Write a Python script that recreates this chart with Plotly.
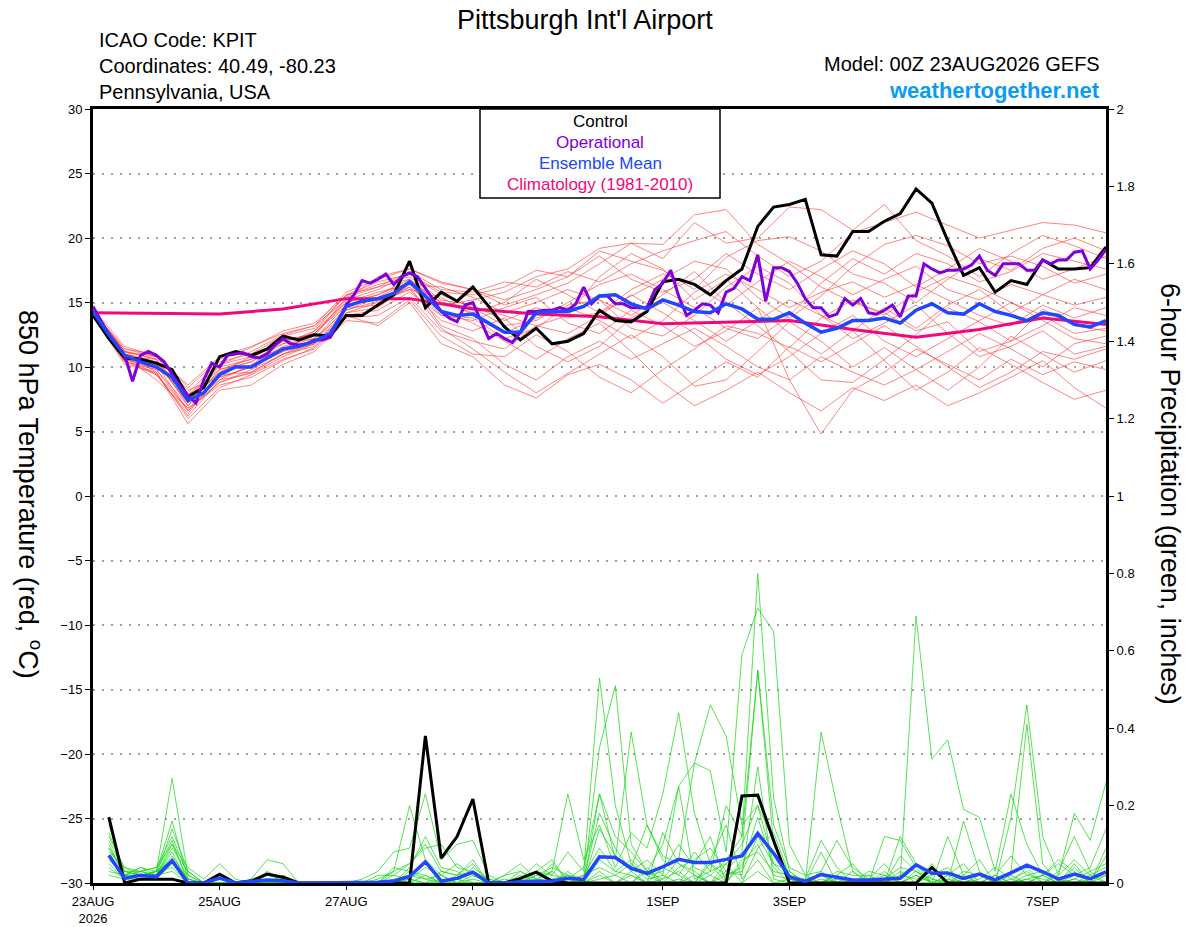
import plotly.graph_objects as go

# forecast hours from 00Z 23AUG2026
hours_3h = list(range(0, 385, 3))
hours_6h = list(range(0, 385, 6))
hours_12h = list(range(0, 385, 12))
hours_24h = list(range(0, 385, 24))
precip_hours = list(range(6, 385, 6))

tick_hours = [0, 48, 96, 144, 216, 264, 312, 360]
tick_labels = ["23AUG<br>2026", "25AUG", "27AUG", "29AUG", "1SEP", "3SEP", "5SEP", "7SEP"]

# 850 hPa temperature (C)
control_temp = [14.0, 12.2, 10.7, 10.6, 10.3, 9.8, 7.7, 8.4,
                10.8, 11.2, 10.9, 11.4, 12.4, 12.1, 12.5, 12.4,
                14.0, 14.0, 14.8, 15.6, 18.2, 14.6, 15.8, 15.1,
                16.2, 14.7, 13.1, 12.1, 13.0, 11.8, 12.0, 12.6,
                14.4, 13.6, 13.5, 14.3, 16.6, 16.8, 16.4, 15.6,
                16.7, 17.6, 20.9, 22.4, 22.6, 23.0, 18.7, 18.6,
                20.5, 20.5, 21.3, 21.9, 23.8, 22.7, 19.8, 17.1,
                17.7, 15.8, 16.7, 16.4, 18.3, 17.6, 17.6, 17.7,
                19.3]
mean_temp = [14.3, 12.5, 10.9, 10.4, 10.0, 9.2, 7.4, 8.0,
             9.4, 10.0, 10.0, 10.7, 11.4, 11.6, 12.0, 12.6,
             14.7, 15.1, 15.3, 15.7, 16.6, 15.5, 14.3, 14.0,
             14.1, 13.4, 12.7, 12.7, 14.2, 14.3, 14.3, 14.7,
             15.5, 15.6, 14.9, 14.5, 15.2, 14.8, 14.3, 14.2,
             14.9, 14.5, 13.7, 13.7, 14.2, 13.4, 12.7, 13.0,
             13.6, 13.6, 13.8, 13.4, 14.4, 14.9, 14.2, 14.1,
             14.9, 14.3, 14.0, 13.6, 14.2, 14.0, 13.3, 13.1,
             13.6]
oper_temp = [14.7, 13.6, 12.5, 11.7, 10.9, 8.9, 10.9, 11.2,
             10.9, 10.4, 9.5, 8.5, 7.8, 7.2, 9.0, 10.3,
             10.0, 10.9, 11.0, 11.1, 10.8, 10.7, 11.0, 11.7,
             12.2, 11.8, 11.7, 11.8, 12.1, 12.1, 12.3, 13.6,
             14.8, 15.6, 16.7, 16.5, 16.8, 17.2, 16.4, 17.0,
             17.3, 17.0, 16.1, 15.3, 14.3, 13.8, 13.5, 14.8,
             15.0, 13.6, 12.2, 12.6, 12.2, 11.9, 12.7, 14.3,
             14.3, 14.4, 14.4, 14.6, 14.4, 14.9, 16.2, 14.9,
             15.5, 15.5, 14.9, 14.9, 14.6, 14.6, 14.6, 16.0,
             16.5, 17.5, 15.5, 14.0, 14.4, 14.9, 14.8, 14.2,
             15.8, 16.1, 17.0, 16.7, 18.7, 15.1, 17.7, 17.7,
             17.4, 16.5, 15.3, 14.6, 14.6, 13.9, 14.1, 15.3,
             14.8, 15.3, 14.2, 14.1, 14.4, 14.8, 13.9, 15.5,
             15.5, 18.0, 17.6, 17.3, 17.5, 17.5, 17.6, 17.9,
             18.6, 17.5, 17.1, 18.0, 18.0, 18.0, 17.5, 17.5,
             18.3, 18.0, 18.3, 18.3, 18.9, 19.0, 17.6, 18.3,
             19.1]
clim_temp = [14.2, 14.15, 14.1, 14.5, 15.3, 15.3, 14.5, 14.1, 13.9,
             13.35, 13.5, 13.6, 12.9, 12.3, 12.9, 13.8, 13.3]

member_temp = [
    [14.2, 11.2, 10.6, 7.0, 9.8, 10.4, 12.0, 12.6, 15.2, 16.0, 17.2, 15.8, 15.6, 16.2, 17.5, 17.0, 19.0,
     18.2, 17.5, 16.0, 18.5, 19.8, 20.1, 19.0, 17.2, 16.5, 15.0, 16.8, 18.4, 17.5, 19.2, 20.0, 19.0],
    [14.0, 10.5, 9.5, 6.2, 9.0, 9.5, 10.8, 11.8, 14.4, 15.1, 16.2, 13.0, 11.4, 9.6, 8.0, 9.5, 11.0,
     12.5, 10.8, 8.5, 9.0, 11.2, 13.5, 12.0, 10.0, 11.5, 9.8, 8.2, 10.0, 12.4, 11.0, 9.6, 10.5],
    [14.4, 11.0, 10.2, 7.8, 10.2, 11.2, 12.5, 13.2, 15.8, 16.8, 17.6, 16.5, 16.0, 14.8, 15.6, 16.5, 18.0,
     19.6, 19.5, 21.8, 22.2, 19.5, 18.0, 16.2, 15.0, 14.2, 12.8, 13.5, 11.2, 12.0, 14.5, 13.2, 12.8],
    [14.1, 10.8, 9.0, 6.8, 8.6, 9.2, 10.5, 11.5, 14.0, 14.4, 15.8, 14.0, 13.8, 12.2, 13.0, 14.8, 15.2,
     13.0, 12.4, 14.0, 16.2, 17.8, 16.5, 14.0, 12.8, 10.5, 8.2, 9.6, 11.5, 10.2, 8.8, 7.5, 8.2],
    [14.3, 11.4, 11.0, 8.4, 10.6, 11.5, 12.8, 13.4, 15.5, 16.4, 17.0, 15.2, 14.8, 13.6, 14.6, 13.8, 14.2,
     15.5, 16.8, 18.2, 17.6, 15.4, 13.8, 15.5, 17.8, 19.5, 20.2, 19.4, 18.0, 18.6, 17.8, 16.5, 17.2],
    [14.0, 10.2, 9.6, 5.6, 8.2, 8.6, 10.2, 11.2, 13.6, 13.4, 15.2, 12.4, 11.0, 10.8, 12.5, 11.2, 9.2,
     8.0, 9.8, 11.4, 13.2, 12.6, 11.5, 13.8, 15.2, 14.0, 15.8, 17.0, 16.2, 15.0, 13.6, 12.2, 11.8],
    [14.2, 11.0, 10.4, 7.2, 9.6, 10.8, 11.8, 12.2, 14.8, 15.6, 16.8, 15.0, 14.6, 13.2, 13.6, 15.0, 16.4,
     17.2, 16.0, 14.6, 13.0, 12.2, 14.0, 16.5, 18.4, 17.2, 18.8, 18.0, 16.6, 17.4, 18.8, 18.2, 17.6],
    [14.5, 11.6, 10.8, 8.2, 9.2, 10.0, 11.2, 12.8, 15.0, 15.8, 16.4, 16.2, 15.4, 14.2, 15.0, 16.0, 15.2,
     14.0, 15.6, 17.4, 15.0, 13.2, 11.2, 9.0, 8.8, 10.6, 12.5, 14.6, 13.5, 12.0, 13.2, 14.6, 14.0],
    [14.1, 10.6, 9.8, 6.6, 8.8, 9.8, 11.0, 11.6, 14.2, 15.0, 16.0, 13.6, 12.8, 13.8, 11.6, 10.4, 11.6,
     13.8, 15.0, 13.6, 12.0, 13.6, 15.2, 14.0, 12.2, 13.4, 14.8, 12.6, 10.8, 11.6, 12.8, 11.0, 11.6],
    [14.3, 11.2, 10.6, 7.6, 10.0, 10.6, 12.2, 12.4, 15.4, 16.2, 17.4, 16.0, 15.8, 16.6, 16.2, 17.4, 16.6,
     18.0, 19.0, 19.8, 20.5, 18.6, 17.0, 18.2, 20.4, 21.2, 22.0, 21.0, 20.0, 20.6, 21.2, 21.0, 20.4],
    [14.2, 10.8, 9.4, 6.4, 9.4, 9.6, 11.0, 12.0, 14.6, 14.8, 16.2, 14.4, 13.4, 12.0, 10.6, 12.2, 13.4,
     11.2, 8.8, 7.0, 8.2, 9.6, 8.0, 6.6, 8.4, 7.4, 8.6, 7.0, 8.0, 9.2, 10.5, 8.4, 6.8],
    [14.0, 10.4, 9.8, 7.0, 9.0, 10.2, 11.6, 12.2, 14.4, 15.4, 16.6, 15.0, 14.2, 15.0, 16.8, 15.6, 14.2,
     16.0, 17.2, 16.4, 14.8, 16.6, 18.2, 17.0, 15.6, 16.8, 17.8, 16.0, 15.2, 16.4, 15.6, 14.8, 15.4],
    [14.4, 11.2, 10.0, 7.8, 9.8, 10.6, 11.4, 12.6, 15.0, 15.6, 16.6, 13.2, 12.2, 10.2, 9.0, 10.8, 12.0,
     10.6, 11.8, 13.0, 11.6, 10.0, 9.0, 10.8, 9.6, 8.6, 9.8, 11.2, 12.6, 11.4, 10.0, 11.8, 12.4],
    [14.2, 10.8, 10.6, 7.4, 9.6, 10.4, 11.8, 12.8, 15.6, 16.6, 17.2, 15.6, 14.6, 14.0, 13.2, 14.0, 17.0,
     18.8, 17.6, 15.2, 16.8, 14.6, 12.6, 11.0, 12.8, 14.6, 13.0, 14.8, 16.0, 14.2, 15.6, 16.8, 16.0],
    [14.1, 11.0, 9.6, 6.0, 8.4, 9.4, 10.6, 11.4, 13.8, 14.0, 15.4, 12.8, 12.0, 11.4, 13.2, 12.6, 14.0,
     15.6, 14.2, 12.6, 10.6, 9.4, 10.8, 12.6, 14.0, 12.0, 10.8, 12.2, 13.6, 15.0, 14.0, 12.6, 13.0],
    [14.3, 11.4, 10.8, 8.0, 10.4, 11.0, 12.4, 13.0, 15.6, 16.2, 16.8, 14.8, 15.2, 15.8, 17.0, 17.6, 19.2,
     19.6, 18.4, 21.2, 19.6, 20.0, 22.4, 22.2, 20.6, 22.6, 19.8, 18.6, 17.0, 18.8, 20.2, 19.4, 18.4],
    [14.2, 10.6, 10.2, 6.6, 9.2, 10.0, 11.2, 11.8, 14.2, 14.6, 16.4, 14.0, 13.6, 14.6, 15.4, 13.4, 12.6,
     14.4, 13.2, 11.6, 12.8, 14.6, 9.0, 4.8, 8.2, 9.6, 11.4, 10.2, 9.0, 10.6, 9.4, 10.4, 9.8],
    [14.3, 11.0, 10.4, 7.2, 10.2, 10.8, 12.0, 12.6, 14.8, 15.2, 16.0, 15.4, 14.0, 12.6, 13.8, 14.6, 13.6,
     12.2, 13.6, 15.8, 17.2, 16.0, 14.6, 15.8, 16.6, 15.4, 16.4, 15.2, 14.0, 13.2, 14.8, 13.8, 14.6],
    [14.0, 10.4, 9.4, 6.8, 8.8, 9.6, 11.0, 11.8, 14.0, 13.2, 15.0, 11.8, 10.8, 8.6, 7.6, 9.4, 10.2,
     9.0, 7.2, 8.8, 10.4, 9.2, 11.6, 10.4, 11.8, 13.2, 11.6, 10.0, 8.4, 9.6, 11.2, 10.6, 11.4],
    [14.4, 11.2, 10.8, 8.6, 10.8, 11.6, 12.6, 13.2, 15.2, 17.0, 17.6, 16.6, 16.0, 15.2, 16.0, 17.0, 18.6,
     16.8, 15.8, 16.8, 18.8, 17.2, 16.0, 17.6, 19.0, 18.0, 16.2, 17.6, 19.2, 18.2, 16.8, 17.6, 18.6],
]

# 6-hour precipitation (inches)
control_precip = [0.17, 0.00, 0.01, 0.01, 0.01, 0.00, 0.00, 0.023,
                  0.00, 0.005, 0.023, 0.015, 0.00, 0.00, 0.00, 0.00,
                  0.00, 0.00, 0.00, 0.00, 0.38, 0.064, 0.12, 0.217,
                  0.00, 0.00, 0.012, 0.028, 0.005, 0.00, 0.00, 0.00,
                  0.00, 0.00, 0.00, 0.00, 0.00, 0.00, 0.00, 0.00,
                  0.225, 0.227, 0.11, 0.00, 0.00, 0.00, 0.00, 0.00,
                  0.00, 0.00, 0.00, 0.00, 0.04, 0.00, 0.00, 0.00,
                  0.00, 0.00, 0.00, 0.00, 0.00, 0.00, 0.00, 0.00]
mean_precip = [0.072, 0.012, 0.02, 0.016, 0.058, 0.0, 0.0, 0.013,
               0.0, 0.003, 0.008, 0.006, 0.0, 0.0, 0.0, 0.0,
               0.0, 0.002, 0.005, 0.017, 0.055, 0.005, 0.012, 0.028,
               0.0, 0.0, 0.003, 0.005, 0.005, 0.012, 0.009, 0.068,
               0.066, 0.038, 0.025, 0.042, 0.061, 0.053, 0.053, 0.061,
               0.07, 0.128, 0.077, 0.016, 0.004, 0.022, 0.014, 0.008,
               0.008, 0.01, 0.012, 0.047, 0.025, 0.026, 0.012, 0.023,
               0.008, 0.026, 0.046, 0.029, 0.01, 0.023, 0.011, 0.029]
member_precip = [
    [0.13, 0.03, 0.02, 0.03, 0.27, 0.02, 0.00, 0.01, 0.00, 0.00, 0.02, 0.01, 0.00, 0.00, 0.00, 0.00,
     0.00, 0.00, 0.02, 0.05, 0.10, 0.03, 0.02, 0.06, 0.00, 0.00, 0.01, 0.03, 0.02, 0.08, 0.03, 0.53,
     0.20, 0.05, 0.02, 0.03, 0.10, 0.04, 0.02, 0.06, 0.12, 0.80, 0.22, 0.03, 0.00, 0.02, 0.00, 0.00,
     0.01, 0.00, 0.02, 0.05, 0.01, 0.00, 0.03, 0.02, 0.00, 0.01, 0.03, 0.00, 0.02, 0.06, 0.02, 0.04],
    [0.10, 0.02, 0.04, 0.02, 0.14, 0.03, 0.00, 0.00, 0.00, 0.01, 0.00, 0.00, 0.00, 0.00, 0.00, 0.00,
     0.00, 0.01, 0.03, 0.20, 0.06, 0.02, 0.00, 0.02, 0.00, 0.01, 0.00, 0.02, 0.04, 0.02, 0.01, 0.35,
     0.51, 0.10, 0.03, 0.01, 0.06, 0.31, 0.29, 0.08, 0.59, 0.71, 0.65, 0.10, 0.02, 0.00, 0.01, 0.00,
     0.00, 0.02, 0.00, 0.02, 0.00, 0.01, 0.00, 0.00, 0.02, 0.00, 0.01, 0.02, 0.00, 0.01, 0.03, 0.00],
    [0.08, 0.04, 0.03, 0.04, 0.10, 0.04, 0.01, 0.05, 0.01, 0.00, 0.00, 0.02, 0.00, 0.00, 0.00, 0.00,
     0.01, 0.03, 0.08, 0.09, 0.23, 0.06, 0.10, 0.11, 0.02, 0.00, 0.03, 0.01, 0.00, 0.02, 0.00, 0.23,
     0.06, 0.39, 0.15, 0.07, 0.05, 0.02, 0.00, 0.03, 0.08, 0.55, 0.10, 0.02, 0.01, 0.11, 0.04, 0.00,
     0.03, 0.02, 0.01, 0.69, 0.32, 0.37, 0.19, 0.17, 0.03, 0.23, 0.10, 0.02, 0.05, 0.02, 0.01, 0.03],
    [0.06, 0.02, 0.03, 0.02, 0.10, 0.01, 0.00, 0.00, 0.00, 0.01, 0.06, 0.05, 0.00, 0.00, 0.00, 0.00,
     0.00, 0.00, 0.00, 0.01, 0.04, 0.02, 0.05, 0.02, 0.00, 0.02, 0.05, 0.01, 0.03, 0.23, 0.06, 0.15,
     0.04, 0.13, 0.09, 0.23, 0.44, 0.18, 0.05, 0.02, 0.03, 0.12, 0.05, 0.01, 0.00, 0.39, 0.20, 0.03,
     0.00, 0.00, 0.02, 0.01, 0.03, 0.00, 0.02, 0.06, 0.00, 0.17, 0.46, 0.12, 0.02, 0.18, 0.11, 0.26],
    [0.04, 0.01, 0.02, 0.03, 0.06, 0.00, 0.00, 0.02, 0.00, 0.00, 0.01, 0.00, 0.00, 0.00, 0.00, 0.00,
     0.00, 0.00, 0.03, 0.05, 0.09, 0.10, 0.04, 0.03, 0.01, 0.00, 0.01, 0.05, 0.02, 0.01, 0.04, 0.23,
     0.12, 0.08, 0.03, 0.10, 0.25, 0.31, 0.46, 0.38, 0.15, 0.20, 0.05, 0.03, 0.00, 0.00, 0.03, 0.02,
     0.02, 0.00, 0.12, 0.05, 0.00, 0.02, 0.00, 0.02, 0.00, 0.03, 0.41, 0.05, 0.00, 0.02, 0.04, 0.14],
    [0.03, 0.02, 0.01, 0.01, 0.05, 0.00, 0.00, 0.00, 0.00, 0.00, 0.00, 0.00, 0.00, 0.00, 0.00, 0.00,
     0.00, 0.00, 0.00, 0.03, 0.02, 0.00, 0.01, 0.00, 0.00, 0.00, 0.00, 0.02, 0.01, 0.02, 0.00, 0.14,
     0.07, 0.04, 0.15, 0.06, 0.02, 0.08, 0.03, 0.20, 0.12, 0.55, 0.15, 0.04, 0.02, 0.03, 0.11, 0.04,
     0.01, 0.05, 0.00, 0.02, 0.00, 0.00, 0.16, 0.03, 0.00, 0.00, 0.02, 0.03, 0.01, 0.00, 0.01, 0.02],
    [0.11, 0.03, 0.03, 0.04, 0.12, 0.02, 0.00, 0.00, 0.00, 0.00, 0.00, 0.00, 0.00, 0.00, 0.00, 0.00,
     0.00, 0.02, 0.02, 0.01, 0.00, 0.03, 0.02, 0.05, 0.00, 0.00, 0.02, 0.00, 0.05, 0.01, 0.02, 0.04,
     0.02, 0.05, 0.01, 0.02, 0.25, 0.01, 0.03, 0.05, 0.10, 0.20, 0.11, 0.00, 0.01, 0.00, 0.02, 0.00,
     0.00, 0.01, 0.04, 0.03, 0.00, 0.02, 0.05, 0.00, 0.00, 0.02, 0.00, 0.00, 0.03, 0.12, 0.03, 0.05],
    [0.07, 0.02, 0.02, 0.02, 0.08, 0.00, 0.00, 0.00, 0.00, 0.00, 0.00, 0.00, 0.00, 0.00, 0.00, 0.00,
     0.00, 0.00, 0.01, 0.02, 0.01, 0.00, 0.00, 0.01, 0.00, 0.00, 0.01, 0.00, 0.00, 0.03, 0.00, 0.06,
     0.03, 0.02, 0.00, 0.04, 0.02, 0.00, 0.05, 0.00, 0.06, 0.08, 0.03, 0.02, 0.00, 0.00, 0.00, 0.03,
     0.00, 0.12, 0.11, 0.04, 0.00, 0.12, 0.02, 0.00, 0.02, 0.00, 0.00, 0.02, 0.06, 0.03, 0.00, 0.02],
    [0.05, 0.01, 0.03, 0.02, 0.07, 0.01, 0.00, 0.00, 0.00, 0.00, 0.00, 0.00, 0.00, 0.00, 0.00, 0.00,
     0.00, 0.00, 0.00, 0.00, 0.02, 0.00, 0.00, 0.00, 0.00, 0.02, 0.03, 0.00, 0.01, 0.00, 0.02, 0.09,
     0.03, 0.06, 0.02, 0.00, 0.04, 0.06, 0.09, 0.03, 0.02, 0.30, 0.01, 0.00, 0.00, 0.03, 0.00, 0.00,
     0.02, 0.00, 0.00, 0.03, 0.00, 0.00, 0.00, 0.01, 0.04, 0.01, 0.00, 0.00, 0.00, 0.00, 0.02, 0.00],
    [0.09, 0.02, 0.01, 0.03, 0.04, 0.00, 0.00, 0.00, 0.00, 0.00, 0.00, 0.00, 0.00, 0.00, 0.00, 0.00,
     0.00, 0.00, 0.00, 0.00, 0.00, 0.01, 0.00, 0.00, 0.00, 0.00, 0.00, 0.01, 0.00, 0.00, 0.00, 0.02,
     0.00, 0.03, 0.06, 0.02, 0.00, 0.05, 0.12, 0.00, 0.00, 0.03, 0.00, 0.01, 0.00, 0.00, 0.00, 0.00,
     0.00, 0.00, 0.00, 0.00, 0.05, 0.00, 0.00, 0.00, 0.00, 0.00, 0.04, 0.00, 0.00, 0.05, 0.00, 0.07],
    [0.12, 0.04, 0.02, 0.02, 0.09, 0.03, 0.00, 0.00, 0.00, 0.00, 0.00, 0.02, 0.00, 0.00, 0.00, 0.00,
     0.00, 0.00, 0.04, 0.03, 0.01, 0.02, 0.00, 0.04, 0.01, 0.00, 0.00, 0.03, 0.06, 0.00, 0.01, 0.18,
     0.09, 0.03, 0.00, 0.13, 0.05, 0.03, 0.00, 0.02, 0.04, 0.17, 0.04, 0.00, 0.00, 0.00, 0.02, 0.05,
     0.00, 0.03, 0.00, 0.00, 0.02, 0.04, 0.00, 0.00, 0.02, 0.07, 0.02, 0.01, 0.00, 0.04, 0.00, 0.09],
    [0.15, 0.02, 0.04, 0.03, 0.16, 0.01, 0.00, 0.00, 0.00, 0.00, 0.03, 0.01, 0.00, 0.00, 0.00, 0.00,
     0.00, 0.00, 0.00, 0.01, 0.00, 0.00, 0.00, 0.00, 0.00, 0.00, 0.00, 0.00, 0.03, 0.00, 0.00, 0.03,
     0.00, 0.02, 0.00, 0.01, 0.03, 0.00, 0.02, 0.00, 0.05, 0.10, 0.02, 0.01, 0.00, 0.08, 0.00, 0.00,
     0.00, 0.00, 0.03, 0.00, 0.00, 0.00, 0.01, 0.00, 0.00, 0.00, 0.01, 0.00, 0.00, 0.00, 0.00, 0.03],
    [0.02, 0.01, 0.01, 0.02, 0.03, 0.00, 0.00, 0.00, 0.00, 0.00, 0.00, 0.00, 0.00, 0.00, 0.00, 0.00,
     0.00, 0.00, 0.00, 0.04, 0.12, 0.04, 0.03, 0.00, 0.00, 0.00, 0.00, 0.00, 0.00, 0.00, 0.00, 0.01,
     0.02, 0.00, 0.04, 0.00, 0.01, 0.00, 0.06, 0.15, 0.01, 0.06, 0.00, 0.00, 0.00, 0.01, 0.00, 0.00,
     0.00, 0.00, 0.07, 0.03, 0.01, 0.00, 0.00, 0.00, 0.00, 0.00, 0.00, 0.02, 0.00, 0.00, 0.00, 0.00],
    [0.09, 0.03, 0.02, 0.03, 0.11, 0.00, 0.00, 0.00, 0.00, 0.00, 0.00, 0.00, 0.00, 0.00, 0.00, 0.00,
     0.00, 0.00, 0.00, 0.00, 0.00, 0.00, 0.02, 0.03, 0.00, 0.00, 0.00, 0.00, 0.00, 0.01, 0.00, 0.00,
     0.00, 0.00, 0.03, 0.00, 0.00, 0.02, 0.00, 0.05, 0.00, 0.09, 0.13, 0.02, 0.00, 0.00, 0.00, 0.00,
     0.00, 0.00, 0.00, 0.00, 0.00, 0.00, 0.00, 0.00, 0.00, 0.00, 0.00, 0.00, 0.00, 0.01, 0.00, 0.00],
]

FONT = "Liberation Sans, Arial, sans-serif"
RED = "rgba(255,50,50,0.75)"
GREEN = "rgba(20,215,20,0.9)"
PURPLE = "#8000DC"
BLUE = "#2046FF"
PINK = "#F0087C"

fig = go.Figure()

for m in member_temp:
    fig.add_trace(go.Scatter(x=hours_12h, y=m, mode="lines",
                             line=dict(color=RED, width=0.8), hoverinfo="skip"))
for m in member_precip:
    fig.add_trace(go.Scatter(x=precip_hours, y=m, mode="lines", yaxis="y2",
                             line=dict(color=GREEN, width=0.8), hoverinfo="skip"))

fig.add_trace(go.Scatter(x=hours_24h, y=clim_temp, mode="lines", name="Climatology",
                         line=dict(color=PINK, width=3)))
fig.add_trace(go.Scatter(x=hours_6h, y=control_temp, mode="lines", name="Control",
                         line=dict(color="black", width=3)))
fig.add_trace(go.Scatter(x=hours_3h, y=oper_temp, mode="lines", name="Operational",
                         line=dict(color=PURPLE, width=3)))
fig.add_trace(go.Scatter(x=hours_6h, y=mean_temp, mode="lines", name="Ensemble Mean",
                         line=dict(color=BLUE, width=3.5)))
fig.add_trace(go.Scatter(x=precip_hours, y=control_precip, mode="lines", yaxis="y2",
                         line=dict(color="black", width=3)))
fig.add_trace(go.Scatter(x=precip_hours, y=mean_precip, mode="lines", yaxis="y2",
                         line=dict(color=BLUE, width=3.5)))

axis_common = dict(showline=True, linecolor="black", ticks="outside",
                   tickcolor="black", zeroline=False, automargin=False)

# page body adds an 8px offset, so the figure is 8px smaller and margins shifted
fig.update_layout(
    width=1192, height=919,
    margin=dict(l=85, r=94, t=101, b=44),
    paper_bgcolor="white", plot_bgcolor="white",
    font=dict(family=FONT, color="black"),
    showlegend=False,
    xaxis=dict(range=[0, 384], tickvals=tick_hours, ticktext=tick_labels, showgrid=False,
               linewidth=3, mirror=True, ticklen=4, tickfont=dict(size=13, color="black"),
               **axis_common),
    yaxis=dict(range=[-30, 30], dtick=5, showgrid=True, gridcolor="#A0A0A0", griddash="2px,7px",
               gridwidth=1.5, linewidth=3, ticklen=5, tickfont=dict(size=13, color="black"),
               **axis_common),
    yaxis2=dict(range=[0, 2], overlaying="y", side="right", showgrid=False, linewidth=3,
                ticklen=5,
                tickvals=[0, 0.2, 0.4, 0.6, 0.8, 1, 1.2, 1.4, 1.6, 1.8, 2],
                ticktext=["0", "0.2", "0.4", "0.6", "0.8", "1", "1.2", "1.4", "1.6", "1.8", "2"],
                tickfont=dict(size=13, color="black"), **axis_common),
)


def px_x(px):
    return (px - 93) / 1013


def px_y(py):
    return (883 - py) / 774


# legend box
fig.add_shape(type="rect", xref="paper", yref="paper", x0=px_x(480), x1=px_x(720),
              y0=px_y(198), y1=px_y(109), line=dict(color="black", width=1.5),
              fillcolor="white", layer="above")
legend_items = [("Control", "black"), ("Operational", PURPLE),
                ("Ensemble Mean", BLUE), ("Climatology (1981-2010)", PINK)]
for i, (txt, col) in enumerate(legend_items):
    fig.add_annotation(x=px_x(600), y=px_y(121 + 21.3 * i), xref="paper", yref="paper",
                       text=txt, showarrow=False, xanchor="center", yanchor="middle",
                       font=dict(size=17, color=col))

# header texts
fig.add_annotation(x=px_x(585), y=px_y(20), xref="paper", yref="paper",
                   text="Pittsburgh Int'l Airport", showarrow=False,
                   xanchor="center", yanchor="middle", font=dict(size=27))
for i, txt in enumerate(["ICAO Code: KPIT", "Coordinates: 40.49, -80.23", "Pennsylvania, USA"]):
    fig.add_annotation(x=px_x(97), y=px_y(40 + 26 * i), xref="paper", yref="paper",
                       text=txt, showarrow=False, xanchor="left", yanchor="middle",
                       font=dict(size=20))
fig.add_annotation(x=px_x(1102), y=px_y(64), xref="paper", yref="paper",
                   text="Model: 00Z 23AUG2026 GEFS", showarrow=False,
                   xanchor="right", yanchor="middle", font=dict(size=20))
fig.add_annotation(x=px_x(1102), y=px_y(90), xref="paper", yref="paper",
                   text="<b>weathertogether.net</b>", showarrow=False,
                   xanchor="right", yanchor="middle", font=dict(size=22, color="#0A9BF5"))

# axis titles
fig.add_annotation(x=px_x(30), y=px_y(494), xref="paper", yref="paper",
                   text="850 hPa Temperature (red, <sup>o</sup>C)", showarrow=False,
                   textangle=90, xanchor="center", yanchor="middle", font=dict(size=27))
fig.add_annotation(x=px_x(1170), y=px_y(494), xref="paper", yref="paper",
                   text="6-hour Precipitation (green, inches)", showarrow=False,
                   textangle=90, xanchor="center", yanchor="middle", font=dict(size=27))

fig.write_html("out.html")
